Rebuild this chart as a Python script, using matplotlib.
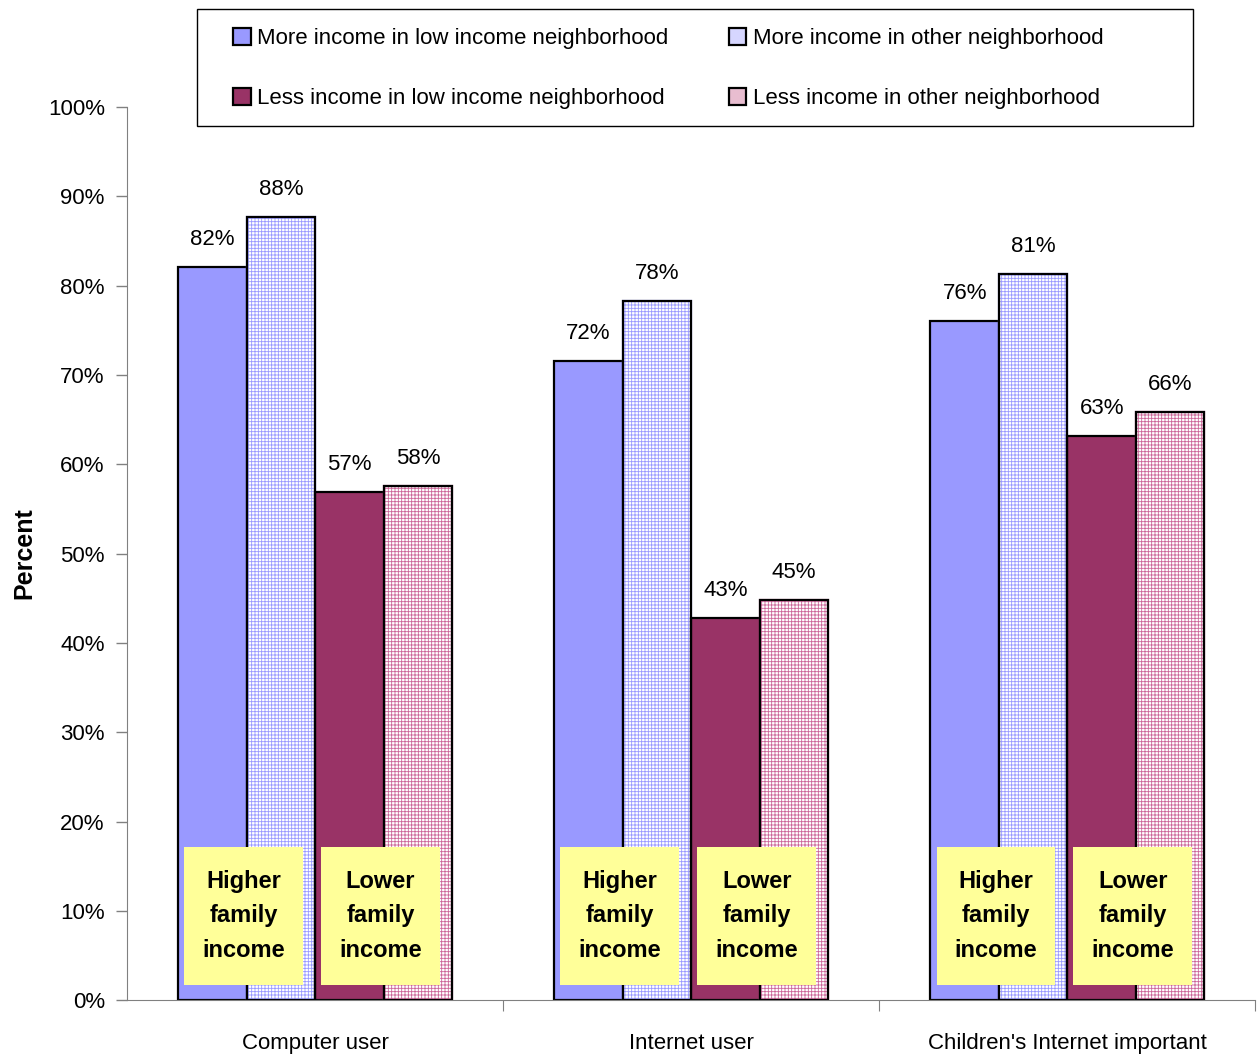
import numpy as np
import matplotlib.pyplot as plt
from matplotlib.patches import Rectangle

categories = ["Computer user", "Internet user", "Children's Internet important"]
series_names = [
    "More income in low income neighborhood",
    "More income in other neighborhood",
    "Less income in low income neighborhood",
    "Less income in other neighborhood",
]
more_low = [82.1, 71.6, 76.0]
more_other = [87.7, 78.3, 81.3]
less_low = [56.9, 42.8, 63.2]
less_other = [57.6, 44.8, 65.8]
box_labels = ["Higher\nfamily\nincome", "Lower\nfamily\nincome"]

plt.rcParams['font.family'] = ['Liberation Sans', 'DejaVu Sans']
plt.rcParams['hatch.linewidth'] = 0.6

FS = 16

fig = plt.figure(figsize=(12.58, 10.55), dpi=100)
ax = fig.add_axes([0.101, 0.052, 0.897, 0.8466])

x = np.arange(len(categories))
w = 0.182
offsets = [-1.5 * w, -0.5 * w, 0.5 * w, 1.5 * w]
styles = [
    dict(color='#9999FF', hatch=None, hc=None),
    dict(color='white', hatch='+++++', hc='#9999FF'),
    dict(color='#993366', hatch=None, hc=None),
    dict(color='white', hatch='+++++', hc='#CC6699'),
]
all_vals = [more_low, more_other, less_low, less_other]

for vals, off, st, name in zip(all_vals, offsets, styles, series_names):
    bars = ax.bar(x + off, vals, w, facecolor=st['color'], edgecolor='black',
                  linewidth=1.6, hatch=st['hatch'], label=name, zorder=2)
    if st['hatch']:
        for b in bars:
            b.set_edgecolor(st['hc'])
            # outline drawn separately so the hatch keeps its own colour
            ax.add_patch(Rectangle(b.get_xy(), b.get_width(), b.get_height(),
                                   fill=False, edgecolor='black', linewidth=1.6, zorder=3))
    for xi, v in zip(x + off, vals):
        ax.text(xi, v + 1.9, f"{v:.0f}%", ha='center', va='bottom', fontsize=FS)

# yellow note boxes over each pair of bars
for xi in x:
    for j, lab in enumerate(box_labels):
        cx = xi + (offsets[2 * j] + offsets[2 * j + 1]) / 2 - 0.008
        bw = 0.316
        ax.add_patch(Rectangle((cx - bw / 2, 1.7), bw, 15.5, facecolor='#FFFF99',
                               edgecolor='none', zorder=4))
        ax.text(cx, 1.7 + 15.5 / 2, lab, ha='center', va='center', fontsize=FS + 1,
                fontweight='bold', linespacing=1.65, zorder=5)

ax.set_xlim(-0.5, 2.5)
ax.set_ylim(0, 100)
ax.set_yticks(np.arange(0, 101, 10))
ax.set_yticklabels([f"{t}%" for t in range(0, 101, 10)], fontsize=FS)
ax.set_xticks([0.5, 1.5, 2.5])
ax.set_xticklabels([])
ax.set_xticks(x, minor=True)
ax.set_xticklabels(categories, minor=True, fontsize=FS)
ax.tick_params(axis='x', which='minor', length=0, pad=24)
ax.tick_params(axis='x', which='major', length=8, color='gray')
ax.tick_params(axis='y', length=8, width=1, color='gray', pad=8)
ax.spines['top'].set_visible(False)
ax.spines['right'].set_visible(False)
ax.spines['left'].set_color('gray')
ax.spines['bottom'].set_color('gray')
ax.set_ylabel("Percent", fontsize=FS + 2, fontweight='bold', labelpad=8)

leg_fill = ['#9999FF', '#D6D6FF', '#993366', '#E8BDD0']
leg_h = [Rectangle((0, 0), 1, 1, facecolor=c, edgecolor='black', linewidth=1.6)
         for c in leg_fill]
order = [0, 2, 1, 3]
fig.legend([leg_h[i] for i in order], [series_names[i] for i in order], ncol=2,
           loc='upper left', bbox_to_anchor=(233 / 1258, 1 - 28 / 1055), fontsize=FS,
           frameon=False, handlelength=0.8, handleheight=0.8, handletextpad=0.3,
           labelspacing=1.75, columnspacing=2.7, borderpad=0, borderaxespad=0)
fig.add_artist(Rectangle((197 / 1258, 1 - 126 / 1055), 996 / 1258, 117 / 1055,
                         transform=fig.transFigure, fill=False, edgecolor='black',
                         linewidth=1.0))

fig.savefig("out.png", dpi=100)
